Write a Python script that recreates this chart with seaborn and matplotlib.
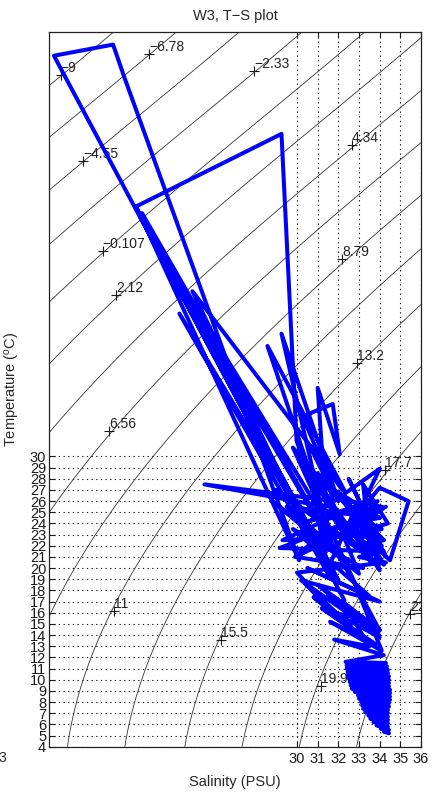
import numpy as np
import pandas as pd
import matplotlib
matplotlib.use("Agg")
import matplotlib.pyplot as plt
import seaborn as sns

# ---- data ----
sal = [32.3, 18.24, 21.10, 21.64, 30.1, 22.22, 29.25, 29.98, 31.3,
       22.4, 32.0, 22.6, 31.2, 22.3, 30.6, 23.1, 33.0, 22.5, 29.6,
       24.31, 31.5, 24.94, 32.31, 28.57, 31.1, 29.25, 32.0,
       30.27, 31.73, 32.07, 31.0, 31.4,
       25.52, 31.8, 34.0, 33.0, 34.0, 35.4, 34.5, 33.5, 34.2, 32.5, 34.0,
       32.8, 34.1, 31.5, 33.8, 29.16, 32.3, 30.0, 33.2, 29.8, 33.5, 30.5,
       34.0, 30.2, 33.8, 31.0, 34.0, 31.5, 33.0, 31.8, 34.0,
       # dense upper cluster
       29.8, 31.8, 30.6, 32.2, 31.2, 31.9,
       30.0, 32.8, 29.0, 33.5, 30.5, 34.2, 31.0, 33.0, 28.8, 32.0, 29.5,
       34.0, 31.8, 34.3, 32.5, 33.8, 29.3, 32.8, 30.2, 33.9, 32.2, 34.4,
       33.2, 33.6, 30.8, 31.5, 33.0, 34.0, 32.6, 34.3, 31.2, 29.9, 33.3,
       32.4, 34.1, 32.5, 34.0, 32.6, 34.1, 32.7, 34.2, 32.8, 34.2, 33.0, 34.3,
       # band
       30.0, 32.0, 30.4, 32.6, 30.8, 33.2, 31.2, 33.8, 31.6, 34.1,
       32.8, 34.0, 32.2, 33.5, 31.8, 34.2,
       # blob
       32.35, 34.3, 32.4, 34.35, 32.4, 34.4, 32.45, 34.4, 32.45, 34.45,
       32.5, 34.45, 32.55, 34.45, 32.6, 34.45, 32.65, 34.5, 32.8, 34.5,
       32.95, 34.5, 33.0, 34.5, 33.1, 34.45, 33.15, 34.45, 33.2, 34.4,
       33.3, 34.4, 33.45, 34.4, 33.55, 34.4, 33.7, 34.4, 33.85, 34.4,
       34.05, 34.45, 34.2, 34.45]
temp = [17.1, 65.9, 66.9, 64.0, 20.7, 52.4, 58.9, 31.4, 24.5,
        51.5, 18.9, 51.0, 21.5, 52.0, 23.0, 49.0, 18.0, 51.8, 26.5,
        42.8, 19.5, 44.8, 26.9, 39.9, 26.05, 41.0, 26.0,
        33.6, 34.7, 30.2, 36.15, 25.5,
        27.5, 26.0, 28.9, 25.0, 27.2, 26.0, 20.7, 22.5, 20.3, 25.5, 23.5,
        24.5, 22.0, 25.0, 21.5, 21.8, 24.0, 21.0, 20.0, 23.5, 17.5, 20.0,
        17.0, 18.9, 14.2, 18.5, 14.5, 17.5, 15.5, 16.0, 13.8,
        # dense upper cluster
        30.8, 26.5, 31.0, 27.0, 30.5, 24.5,
        30.5, 22.0, 27.0, 21.0, 29.0, 22.5, 28.5, 19.5, 26.0, 21.5, 25.5,
        24.5, 27.0, 21.0, 28.0, 23.0, 22.5, 25.5, 24.0, 26.0, 22.8, 24.0,
        27.5, 20.5, 26.5, 20.0, 26.0, 19.8, 23.5, 25.5, 23.0, 21.0, 24.0,
        26.0, 25.5, 25.0, 24.5, 24.0, 23.5, 23.0, 22.5, 22.0, 21.5, 21.0, 20.5,
        # band
        19.6, 15.5, 18.6, 14.8, 17.4, 13.8, 16.4, 13.2, 15.2, 12.6,
        18.6, 14.4, 17.0, 13.0, 13.6, 12.2,
        # blob
        11.6, 11.5, 11.3, 11.2, 11.0, 10.9, 10.7, 10.6, 10.4, 10.3,
        10.1, 10.0, 9.8, 9.7, 9.5, 9.4, 9.2, 9.1, 8.9, 8.8,
        8.6, 8.5, 8.3, 8.2, 8.0, 7.9, 7.7, 7.6, 7.4, 7.3,
        7.1, 7.0, 6.8, 6.7, 6.5, 6.4, 6.2, 6.1, 5.9, 5.8,
        5.6, 5.5, 5.35, 5.2]

levels = [-9, -6.78, -4.55, -2.33, -0.107, 2.12, 4.34, 6.56, 8.79, 11,
          13.2, 15.5, 17.7, 19.9, 22.1]
lab_text = ["\u22129", "\u22126.78", "\u22124.55", "\u22122.33", "\u22120.107",
            "2.12", "4.34", "6.56", "8.79", "11", "13.2", "15.5", "17.7",
            "19.9", "22.1"]
lab_s = [18.57, 22.85, 19.65, 27.94, 20.59, 21.24, 32.66, 20.91, 32.20,
         21.15, 32.92, 26.33, 34.25, 31.18, 35.46]
lab_t = [64.18, 66.03, 56.50, 64.54, 48.45, 44.43, 57.86, 32.30, 47.65,
         16.15, 38.35, 13.54, 28.79, 9.42, 15.92]

xticks = [30, 31, 32, 33, 34, 35, 36]
yticks = list(range(4, 31))
sigma_offset = 4.0


def sigma_t(S, T):
    rho_w = (999.842594 + 6.793952e-2 * T - 9.095290e-3 * T**2
             + 1.001685e-4 * T**3 - 1.120083e-6 * T**4 + 6.536332e-9 * T**5)
    A = (8.24493e-1 - 4.0899e-3 * T + 7.6438e-5 * T**2
         - 8.2467e-7 * T**3 + 5.3875e-9 * T**4)
    B = -5.72466e-3 + 1.0227e-4 * T - 1.6546e-6 * T**2
    C = 4.8314e-4
    return rho_w + A * S + B * S**1.5 + C * S**2 - 1000.0


sns.set_theme(style="white")
plt.rcParams["font.family"] = ["Liberation Sans", "DejaVu Sans"]
plt.rcParams["mathtext.default"] = "regular"

fig = plt.figure(figsize=(4.39, 7.95), dpi=100)
ax = fig.add_axes([49 / 439, (795 - 746.7) / 795, (421 - 49) / 439, (746.7 - 32.3) / 795])

# density contours
Sg = np.linspace(18, 36, 300)
Tg = np.linspace(4, 68, 500)
SS, TT = np.meshgrid(Sg, Tg)
ax.contour(SS, TT, sigma_t(SS, TT) - sigma_offset, levels=levels,
           colors="#333333", linewidths=0.6, linestyles="solid", zorder=1)

# contour labels
for s, t, txt in zip(lab_s, lab_t, lab_text):
    ax.plot([s], [t], marker="+", color="k", ms=7, mew=0.8, zorder=2, clip_on=True)
    ax.text(s, t, txt, ha="left", va="bottom", fontsize=10, color="#222222",
            zorder=2, clip_on=True)

# data trace
df = pd.DataFrame({"Salinity": sal, "Temperature": temp})
sns.lineplot(data=df, x="Salinity", y="Temperature", sort=False,
             estimator=None, color="#0000ff", linewidth=2.9, ax=ax, zorder=4)

ax.set_xlim(18, 36)
ax.set_ylim(4, 68)
ax.set_xticks(xticks)
ax.set_yticks(yticks)
ax.set_xticklabels([str(v) for v in xticks], fontsize=10.5)
ax.set_yticklabels([str(v) for v in yticks], fontsize=10.5)
ax.grid(True, linestyle=(0, (1.2, 3.0)), color="k", linewidth=0.8, zorder=0)
ax.tick_params(direction="in", length=4, width=0.8, pad=2,
               top=True, right=True, bottom=True, left=True, colors="k")
ax.tick_params(axis="x", pad=4)
for sp in ax.spines.values():
    sp.set_color("#222222")
    sp.set_linewidth(0.9)

ax.set_xlabel("Salinity (PSU)", fontsize=10.5, labelpad=6)
ax.set_ylabel("Temperature ($^o$C)", fontsize=10.5, labelpad=6)
ax.set_title("W3, T\u2212S plot", fontsize=10.5, pad=9)
fig.text(-0.004, (795 - 758) / 795, "3", fontsize=10, ha="left", va="center")

fig.savefig("out.png", dpi=100)
